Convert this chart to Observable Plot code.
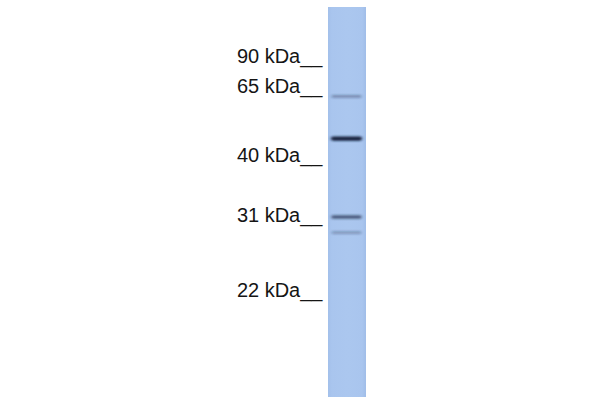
<!DOCTYPE html>
<html>
<head>
<meta charset="utf-8">
<script src="https://cdn.jsdelivr.net/npm/d3@7"></script>
<script src="https://cdn.jsdelivr.net/npm/@observablehq/plot@0.6"></script>
<style>
  html, body { margin: 0; padding: 0; background: #ffffff; }
  #chart { width: 600px; height: 400px; }
</style>
</head>
<body>
<div id="chart"></div>
<script>
// Lanes of the blot
const lanes = ["Lane 1"];

// Molecular-weight ladder (relative migration, 0 = top of lane, 1 = bottom)
const markerLabels = ["90 kDa", "65 kDa", "40 kDa", "31 kDa", "22 kDa"];
const markerRf = [0.150, 0.226, 0.403, 0.556, 0.749];

// Detected bands in the lane (relative migration and relative intensity)
const bandRf = [0.228, 0.336, 0.537, 0.577];
const bandIntensity = [0.28, 1.0, 0.6, 0.2];

const markers = markerLabels.map((label, i) => ({lane: lanes[0], label: label + "__", rf: markerRf[i]}));
const bands = bandRf.map((rf, i) => ({lane: lanes[0], rf, intensity: bandIntensity[i]}));
const laneRows = lanes.map(lane => ({lane, top: 0, bottom: 1}));

const defs = () => {
  const g = d3.create("svg:defs");
  const lg = g.append("linearGradient").attr("id", "laneFill").attr("x1", 0).attr("x2", 1).attr("y1", 0).attr("y2", 0);
  lg.append("stop").attr("offset", "0%").attr("stop-color", "#a3c0ea");
  lg.append("stop").attr("offset", "10%").attr("stop-color", "#a9c5ee");
  lg.append("stop").attr("offset", "50%").attr("stop-color", "#abc7ef");
  lg.append("stop").attr("offset", "90%").attr("stop-color", "#a9c5ee");
  lg.append("stop").attr("offset", "100%").attr("stop-color", "#a0bde8");
  const f = g.append("filter").attr("id", "bandBlur").attr("x", "-20%").attr("y", "-300%").attr("width", "140%").attr("height", "700%");
  f.append("feGaussianBlur").attr("stdDeviation", "1.6 0.8");
  return g.node();
};

const chart = Plot.plot({
  width: 600,
  height: 400,
  marginTop: 0, marginBottom: 0, marginLeft: 0, marginRight: 0,
  style: {background: "#ffffff", fontFamily: "'Liberation Sans', Arial, sans-serif"},
  x: {type: "band", domain: lanes, range: [328, 366], padding: 0, axis: null},
  y: {type: "linear", domain: [0, 1], range: [7, 397], axis: null},
  marks: [
    defs,
    Plot.barY(laneRows, {x: "lane", y1: "top", y2: "bottom", fill: "url(#laneFill)"}),
    Plot.tickY(bands, {
      x: "lane", y: "rf",
      stroke: "#16243e",
      strokeOpacity: d => 0.12 + 0.88 * d.intensity,
      strokeWidth: d => 2.4 + 1.8 * d.intensity,
      strokeLinecap: "round",
      insetLeft: 5, insetRight: 6
    }),
    Plot.text(markers, {
      x: "lane", y: "rf", text: "label",
      textAnchor: "end", lineAnchor: "middle",
      dx: -25, dy: -9,
      fontSize: 20, fill: "#151515"
    })
  ]
});

d3.select(chart).selectAll("g[aria-label='tick']").attr("filter", "url(#bandBlur)");
document.getElementById("chart").appendChild(chart);
</script>
</body>
</html>
